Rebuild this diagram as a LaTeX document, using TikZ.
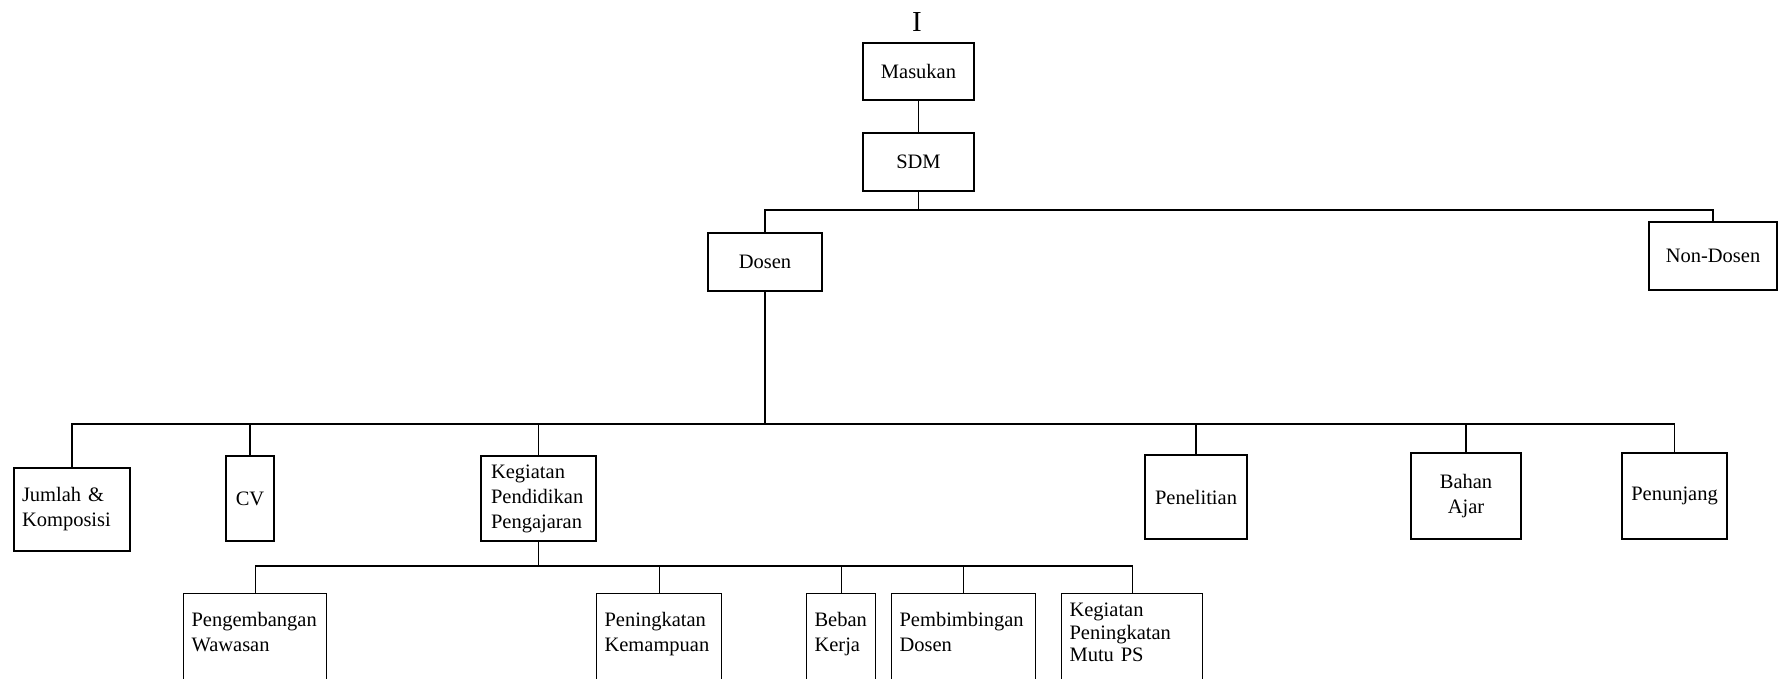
\documentclass[tikz,border=0pt]{standalone}
\usepackage{fontspec}
\setmainfont{Liberation Serif}
\tikzset{
  kotak/.style 2 args={draw, inner sep=0pt, minimum width=#1, minimum height=#2},
  bawah/.style={draw, anchor=north west, align=left, inner xsep=8pt, inner ysep=0pt,
    text height=33pt, text depth=90pt, text width=#1},
}
\begin{document}
\begin{tikzpicture}[x=1pt, y=-1pt, line width=1.1pt, font=\fontsize{20.5}{25}\selectfont]
        \useasboundingbox (0, 0) rectangle (1782, 679);
        \clip (0, 0) rectangle (1782, 679);

        \node[font=\fontsize{29}{30}\selectfont] (judul) at (917, 22) {I};
        \node[kotak={111pt}{57pt}] (masukan) at (918.5, 71.5) {Masukan};
        \node[kotak={111pt}{58pt}] (sdm) at (918.5, 162) {SDM};
        \node[kotak={114pt}{58pt}] (dosen) at (765, 262) {Dosen};
        \node[kotak={128pt}{68pt}] (nondosen) at (1713, 256) {Non-Dosen};

        \node[kotak={116pt}{83pt}, align=left, text width=100pt] (jumlah) at (72, 509.5) {Jumlah \&\\Komposisi};
        \node[kotak={48pt}{85pt}] (cv) at (250, 498.5) {CV};
        \node[kotak={115pt}{85pt}, align=left, text width=95pt] (kpp) at (538.5, 498.5) {Kegiatan\\Pendidikan\\Pengajaran};
        \node[kotak={102pt}{84pt}] (penelitian) at (1196, 497) {Penelitian};
        \node[kotak={110pt}{86pt}, align=center] (bahan) at (1466, 496) {Bahan\\Ajar};
        \node[kotak={105pt}{86pt}] (penunjang) at (1674.5, 496) {Penunjang};

        \node[bawah=127pt] (wawasan) at (183, 593) {Pengembangan\\Wawasan};
        \node[bawah=109pt] (kemampuan) at (596, 593) {Peningkatan\\Kemampuan};
        \node[bawah=53pt] (beban) at (806, 593) {Beban\\Kerja};
        \node[bawah=128pt] (pembimbingan) at (891, 593) {Pembimbingan\\Dosen};
        \node[bawah=125pt, text height=23pt, font=\fontsize{20.5}{22.5}\selectfont] (mutu) at (1061, 593) {Kegiatan\\Peningkatan\\Mutu PS};

        \coordinate (bus1) at (918.5, 210);
        \coordinate (bus2) at (765, 424);
        \coordinate (bus3) at (538.5, 566);

        \draw (masukan) -- (sdm);
        \draw (sdm.south) -- (bus1);
        \draw (dosen.north) |- (bus1) -| (nondosen.north);

        \draw (dosen.south) -- (bus2);
        \foreach \n in {jumlah, cv, kpp, penelitian, bahan, penunjang}
        \draw (\n.north) |- (bus2);

        \draw (kpp.south) -- (bus3);
        \foreach \n in {wawasan, kemampuan, beban, pembimbingan, mutu}
        \draw (\n.north) |- (bus3);
\end{tikzpicture}
\end{document}
